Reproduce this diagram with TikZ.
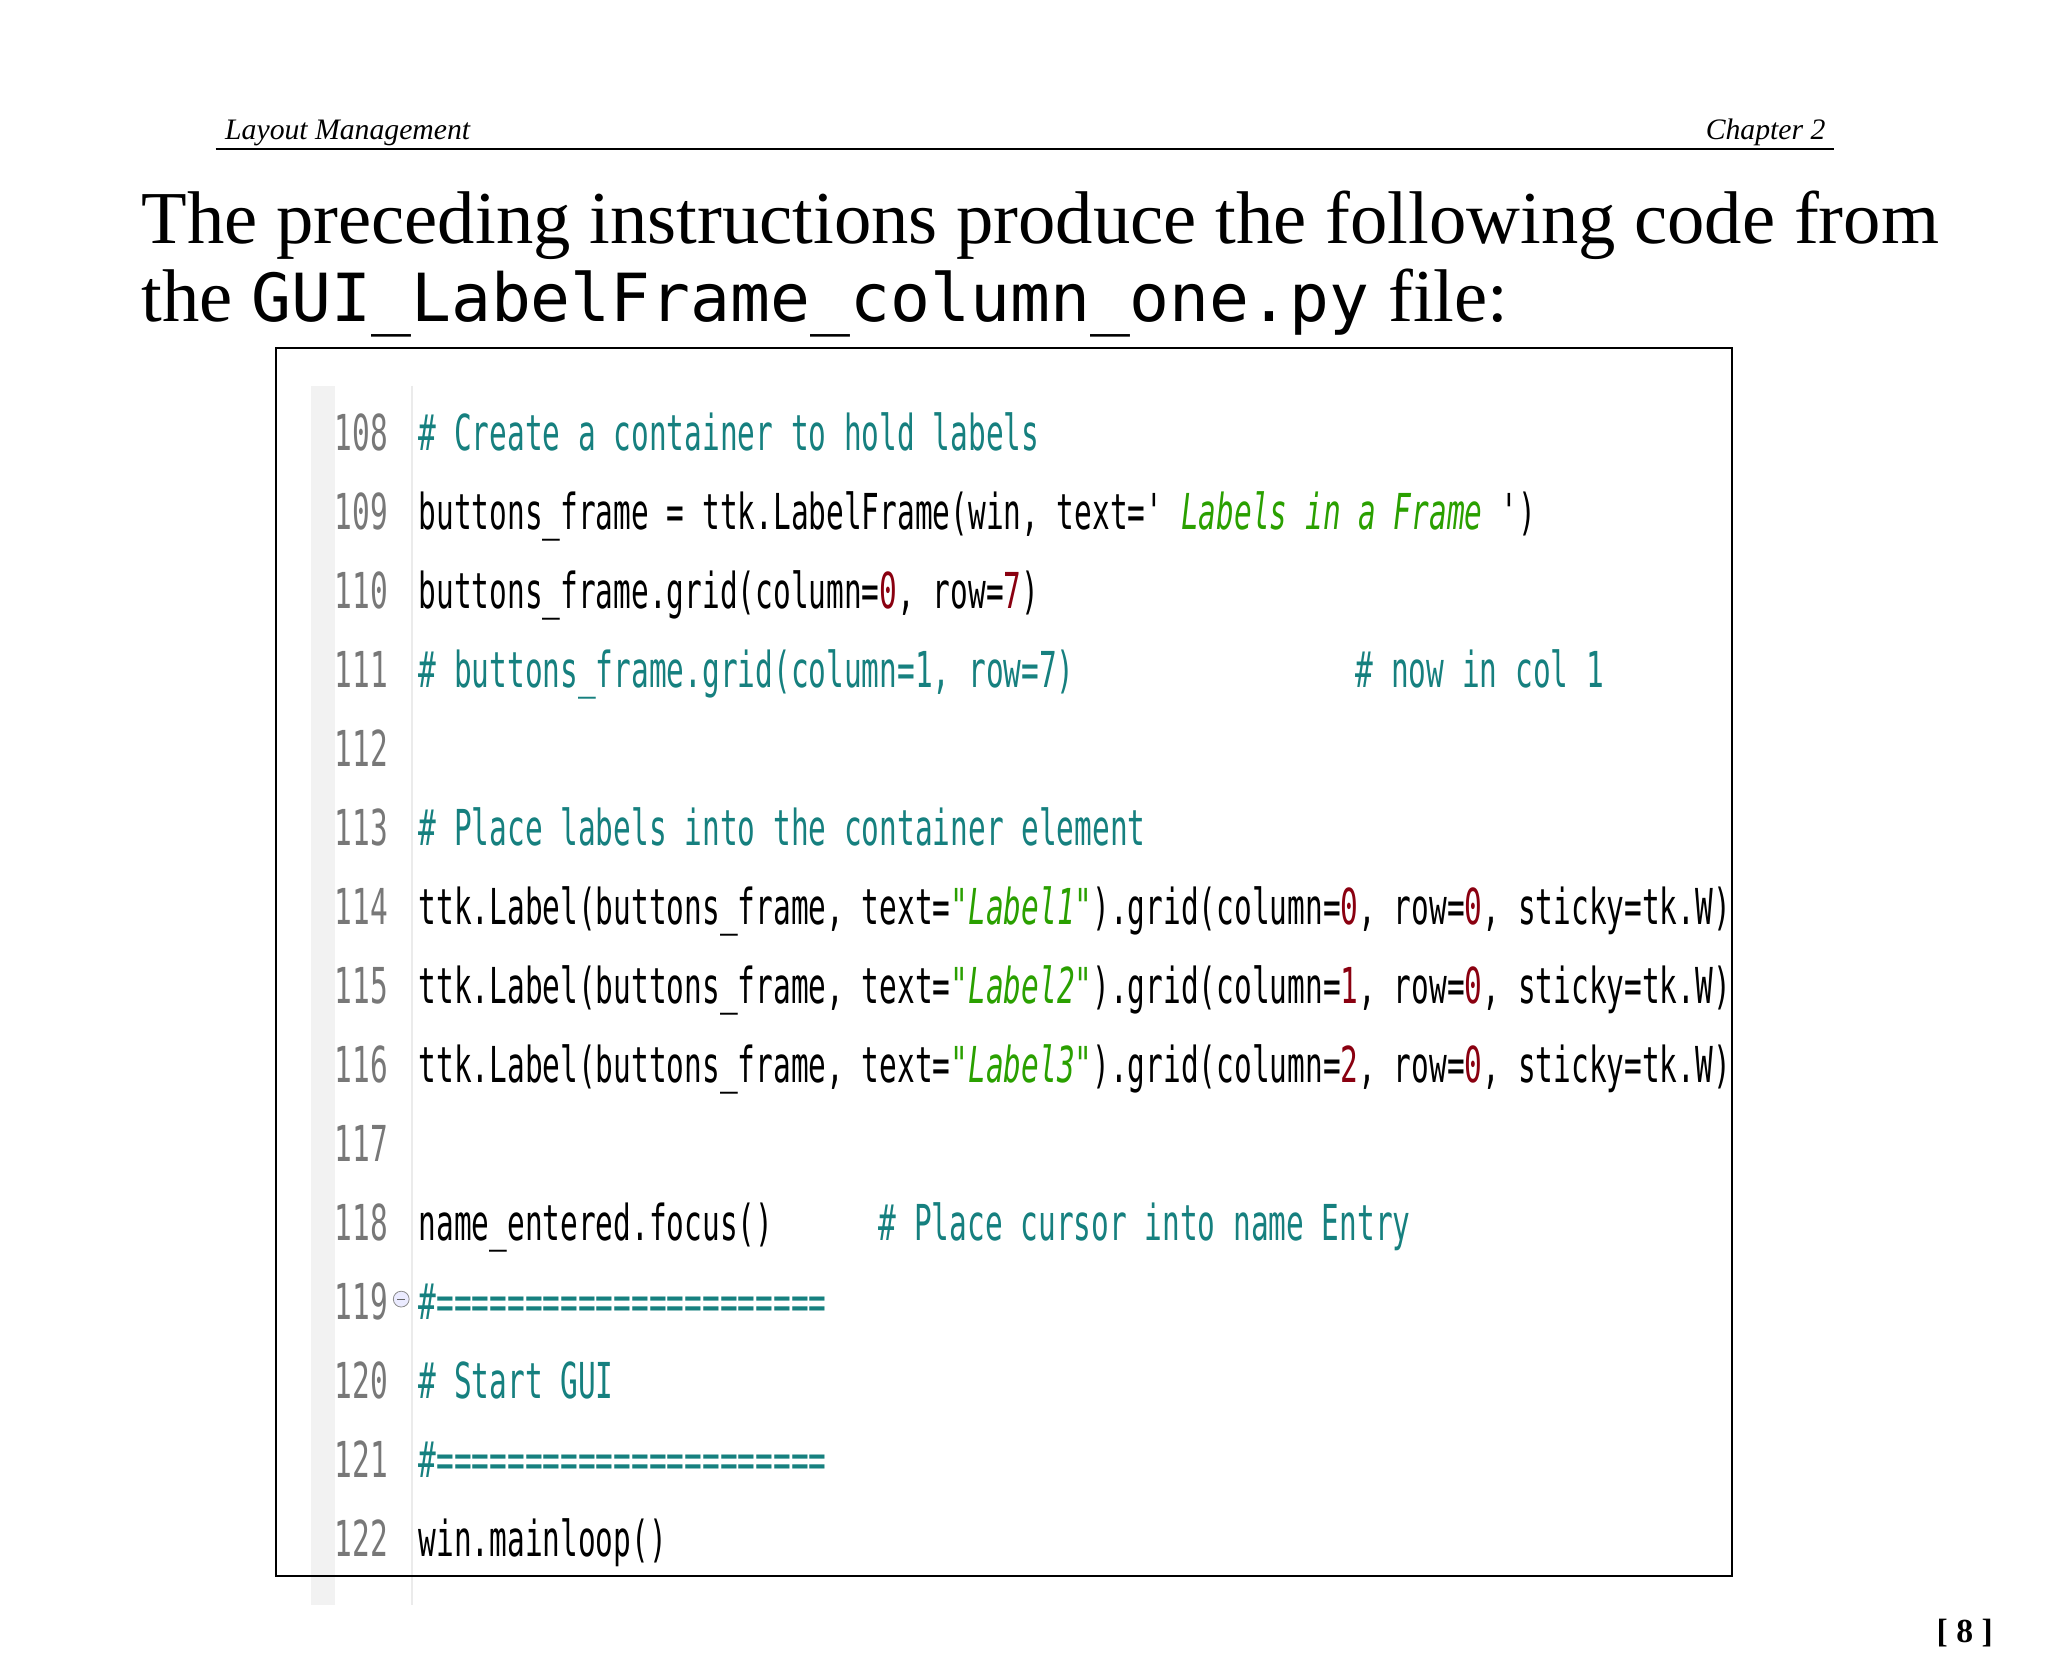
\documentclass[tikz,border=0pt]{standalone}
\usepackage{fontspec}
\setmainfont{Liberation Serif}
\newfontfamily\codefont[FakeStretch=0.595]{DejaVu Sans Mono}
\newfontfamily\monofont{DejaVu Sans Mono}
\definecolor{cm}{HTML}{16807F}
\definecolor{st}{HTML}{2AA000}
\definecolor{nm}{HTML}{8A0010}
\definecolor{ln}{HTML}{787878}
\newcommand{\G}[1]{\textcolor{st}{\itshape #1}}
\newcommand{\R}[1]{\textcolor{nm}{#1}}
\newcommand{\Q}{\char34}
\begin{document}
\begin{tikzpicture}[x=0.66pt,y=-0.66pt,
  code/.style={anchor=base west,inner sep=0pt,font=\codefont\fontsize{25}{25}\selectfont},
  lnum/.style={code,text=ln},
  hdr/.style={anchor=base,inner sep=0pt,font=\itshape\fontsize{15}{15}\selectfont}]
\useasboundingbox (0,0) rectangle (1567,1270);
\fill[white] (0,0) rectangle (1567,1270);
% header
\node[hdr,anchor=base west] (h1) at (172,107) {Layout Management};
\node[hdr,anchor=base east] (h2) at (1397,107) {Chapter 2};
\draw[line width=0.8pt] (165,114) -- (1403,114);
% body text
\node[anchor=base west,inner sep=0pt,font=\fontsize{37.7}{37.7}\selectfont] (t1) at (108,186) {The preceding instructions produce the following code from};
\node[anchor=base west,inner sep=0pt,font=\fontsize{37.7}{37.7}\selectfont] (t2) at (108,246) {the {\monofont\fontsize{33.5}{33.5}\selectfont GUI\_LabelFrame\_column\_one.py} file:};
% gutter
\fill[black!5] (238,295) rectangle (256,1228);
\draw[black!8,line width=1pt] (315,295) -- (315,1228);
% frame
\draw[line width=1pt] (211,266) rectangle (1325,1206);
% line numbers
\foreach \n [count=\i from 0] in {108,...,122}
  \node[lnum] (n\n) at (256,{345+60.43*\i}) {\n};
% code
\node[code,text=cm] (c108) at (320,345) {\# Create a container to hold labels};
\node[code] (c109) at (320,405.4) {buttons\_frame = ttk.LabelFrame(win, text=\char39\G{ Labels in a Frame }\char39)};
\node[code] (c110) at (320,465.9) {buttons\_frame.grid(column=\R{0}, row=\R{7})};
\node[code,text=cm] (c111) at (320,526.3) {\# buttons\_frame.grid(column=1, row=7)};
\node[code,text=cm] (c111b) at (1037,526.3) {\# now in col 1};
\node[code,text=cm] (c113) at (320,647.2) {\# Place labels into the container element};
\node[code] (c114) at (320,707.6) {ttk.Label(buttons\_frame, text=\G{\Q Label1\Q}).grid(column=\R{0}, row=\R{0}, sticky=tk.W)};
\node[code] (c115) at (320,768.0) {ttk.Label(buttons\_frame, text=\G{\Q Label2\Q}).grid(column=\R{1}, row=\R{0}, sticky=tk.W)};
\node[code] (c116) at (320,828.4) {ttk.Label(buttons\_frame, text=\G{\Q Label3\Q}).grid(column=\R{2}, row=\R{0}, sticky=tk.W)};
\node[code] (c118) at (320,949.3) {name\_entered.focus()};
\node[code,text=cm] (c118b) at (672,949.3) {\# Place cursor into name Entry};
\node[code,text=cm] (c119) at (320,1009.7) {\#======================};
\node[code,text=cm] (c120) at (320,1070.2) {\# Start GUI};
\node[code,text=cm] (c121) at (320,1130.6) {\#======================};
\node[code] (c122) at (320,1191.0) {win.mainloop()};
% fold icon
\node[circle,draw=black!45,fill=blue!8,minimum size=8pt,inner sep=0pt] (fold) at (307,994) {};
\draw[black!60,line width=0.6pt] ([xshift=-2pt]fold.center) -- ([xshift=2pt]fold.center);
% page number
\node[anchor=base east,inner sep=0pt,font=\bfseries\fontsize{17}{17}\selectfont] (pg) at (1525,1257) {[ 8 ]};
\end{tikzpicture}
\end{document}
